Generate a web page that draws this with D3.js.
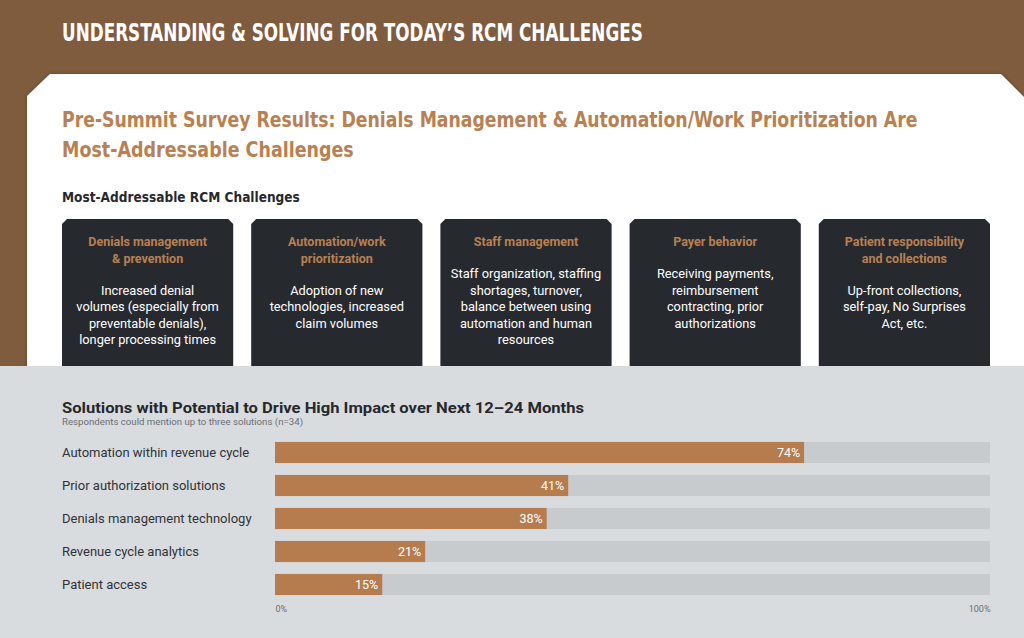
<!DOCTYPE html>
<html><head><meta charset="utf-8">
<script src="https://cdn.jsdelivr.net/npm/d3@7"></script>
<style>body{margin:0;padding:0;overflow:hidden;background:#7F5C3E}svg{display:block}</style>
</head><body>
<script>
const pageTitle = "UNDERSTANDING & SOLVING FOR TODAY’S RCM CHALLENGES";
const headline = ["Pre-Summit Survey Results: Denials Management & Automation/Work Prioritization Are", "Most-Addressable Challenges"];
const sectionTitle = "Most-Addressable RCM Challenges";
const challengeTitles = [["Denials management", "& prevention"], ["Automation/work", "prioritization"], ["Staff management"], ["Payer behavior"], ["Patient responsibility", "and collections"]];
const challengeBodies = [
  ["Increased denial", "volumes (especially from", "preventable denials),", "longer processing times"],
  ["Adoption of new", "technologies, increased", "claim volumes"],
  ["Staff organization, staffing", "shortages, turnover,", "balance between using", "automation and human", "resources"],
  ["Receiving payments,", "reimbursement", "contracting, prior", "authorizations"],
  ["Up-front collections,", "self-pay, No Surprises", "Act, etc."]
];
const chartTitle = "Solutions with Potential to Drive High Impact over Next 12–24 Months";
const chartSubtitle = "Respondents could mention up to three solutions (n=34)";
const solutions = ["Automation within revenue cycle", "Prior authorization solutions", "Denials management technology", "Revenue cycle analytics", "Patient access"];
const values = [74, 41, 38, 21, 15];
const axisTicks = [0, 100];

const W = 1024, H = 638;
const svg = d3.select("body").append("svg").attr("width", W).attr("height", H);
const brown = "#7F5C3E", orange = "#B67C4E", dark = "#262A2F", gray = "#D9DCDF", track = "#C7CBCE";

svg.append("rect").attr("width", W).attr("height", H).attr("fill", brown);

const defs = svg.append("defs");
const f = defs.append("filter").attr("id", "sh").attr("x", -0.05).attr("y", -0.05).attr("width", 1.1).attr("height", 1.2);
f.append("feDropShadow").attr("dx", 0).attr("dy", 0).attr("stdDeviation", 2).attr("flood-color", "#000").attr("flood-opacity", 0.25);

svg.append("path")
  .attr("d", "M50,74 L1001,74 L1030,103 L1030,400 L27,400 L27,96 Z")
  .attr("fill", "#fff").attr("filter", "url(#sh)");

// condensed text: draw at natural width, then scale horizontally to target width
function fitText(str, x0, y0, width, size, fill, family) {
  const t = svg.append("text").attr("x", 0).attr("y", 0).text(str)
    .attr("fill", fill).attr("font-family", family).attr("font-weight", "bold").attr("font-size", size);
  const w = t.node().getComputedTextLength();
  t.attr("transform", `translate(${x0},${y0}) scale(${width / w},1)`);
  return t;
}
const condFam = "DejaVu Sans Condensed, DejaVu Sans";
fitText(pageTitle, 62, 41, 581, 25, "#fff", condFam);
const hlLens = [856, 292];
headline.forEach((t, i) => fitText(t, 62, 127 + i * 30, hlLens[i], 22, "#B98051", condFam));
fitText(sectionTitle, 62, 202, 238, 14, "#25282c", condFam);

const bx = d3.scaleBand().domain(d3.range(challengeTitles.length)).range([62, 990]).paddingInner(0.095);
const bw = bx.bandwidth();
const boxTop = 219, boxBot = 370, c = 5;
challengeTitles.forEach((tl, i) => {
  const x0 = bx(i), x1 = x0 + bw;
  svg.append("path").attr("d", `M${x0 + c},${boxTop} L${x1 - c},${boxTop} L${x1},${boxTop + c} L${x1},${boxBot} L${x0},${boxBot} L${x0},${boxTop + c} Z`)
    .attr("fill", dark);
  const cx = x0 + bw / 2;
  tl.forEach((t, j) => {
    svg.append("text").attr("x", cx).attr("y", 246 + j * 16.5).attr("text-anchor", "middle").text(t)
      .attr("fill", "#B98051").attr("font-family", "Roboto").attr("font-weight", "bold").attr("font-size", 12.5);
  });
  const startY = 246 + tl.length * 16.5 + 15.5;
  challengeBodies[i].forEach((t, j) => {
    svg.append("text").attr("x", cx).attr("y", startY + j * 16.5).attr("text-anchor", "middle").text(t)
      .attr("fill", "#fff").attr("font-family", "Roboto").attr("font-size", 12.8);
  });
});

svg.append("rect").attr("x", 0).attr("y", 366).attr("width", W).attr("height", H - 366).attr("fill", gray);

svg.append("text").attr("x", 62).attr("y", 413).text(chartTitle)
  .attr("fill", "#25282c").attr("font-family", "Roboto").attr("font-weight", "bold")
  .attr("font-size", 15.5).attr("textLength", 522).attr("lengthAdjust", "spacingAndGlyphs");
svg.append("text").attr("x", 62).attr("y", 425).text(chartSubtitle)
  .attr("fill", "#6b6e72").attr("font-family", "Roboto").attr("font-size", 9)
  .attr("textLength", 241).attr("lengthAdjust", "spacingAndGlyphs");

const x = d3.scaleLinear().domain([0, 100]).range([275, 990]);
const y = d3.scaleBand().domain(solutions).range([436, 601]).paddingInner(0.36).paddingOuter(0.18);

const rows = svg.append("g").selectAll("g").data(solutions).join("g");
rows.append("rect").attr("x", x(0)).attr("y", d => y(d)).attr("width", x(100) - x(0)).attr("height", y.bandwidth()).attr("fill", track);
rows.append("rect").attr("x", x(0)).attr("y", d => y(d)).attr("width", (d, i) => x(values[i]) - x(0)).attr("height", y.bandwidth()).attr("fill", orange);
rows.append("text").attr("x", 62).attr("y", d => y(d) + y.bandwidth() / 2 + 4.5).text(d => d)
  .attr("fill", "#2f3236").attr("font-family", "Roboto").attr("font-size", 13);
rows.append("text").attr("x", (d, i) => x(values[i]) - 4).attr("y", d => y(d) + y.bandwidth() / 2 + 4.5)
  .attr("text-anchor", "end").text((d, i) => values[i] + "%")
  .attr("fill", "#fff").attr("font-family", "Roboto").attr("font-size", 12.5);

const axis = d3.axisBottom(x).tickValues(axisTicks).tickFormat(d => d + "%").tickSize(0).tickPadding(0);
const ag = svg.append("g").attr("transform", "translate(0,606)").call(axis);
ag.select(".domain").remove();
ag.selectAll("text").attr("fill", "#6b6e72").attr("font-family", "Roboto").attr("font-size", 9)
  .attr("text-anchor", (d, i) => i === 0 ? "start" : "end");
</script>
</body></html>
